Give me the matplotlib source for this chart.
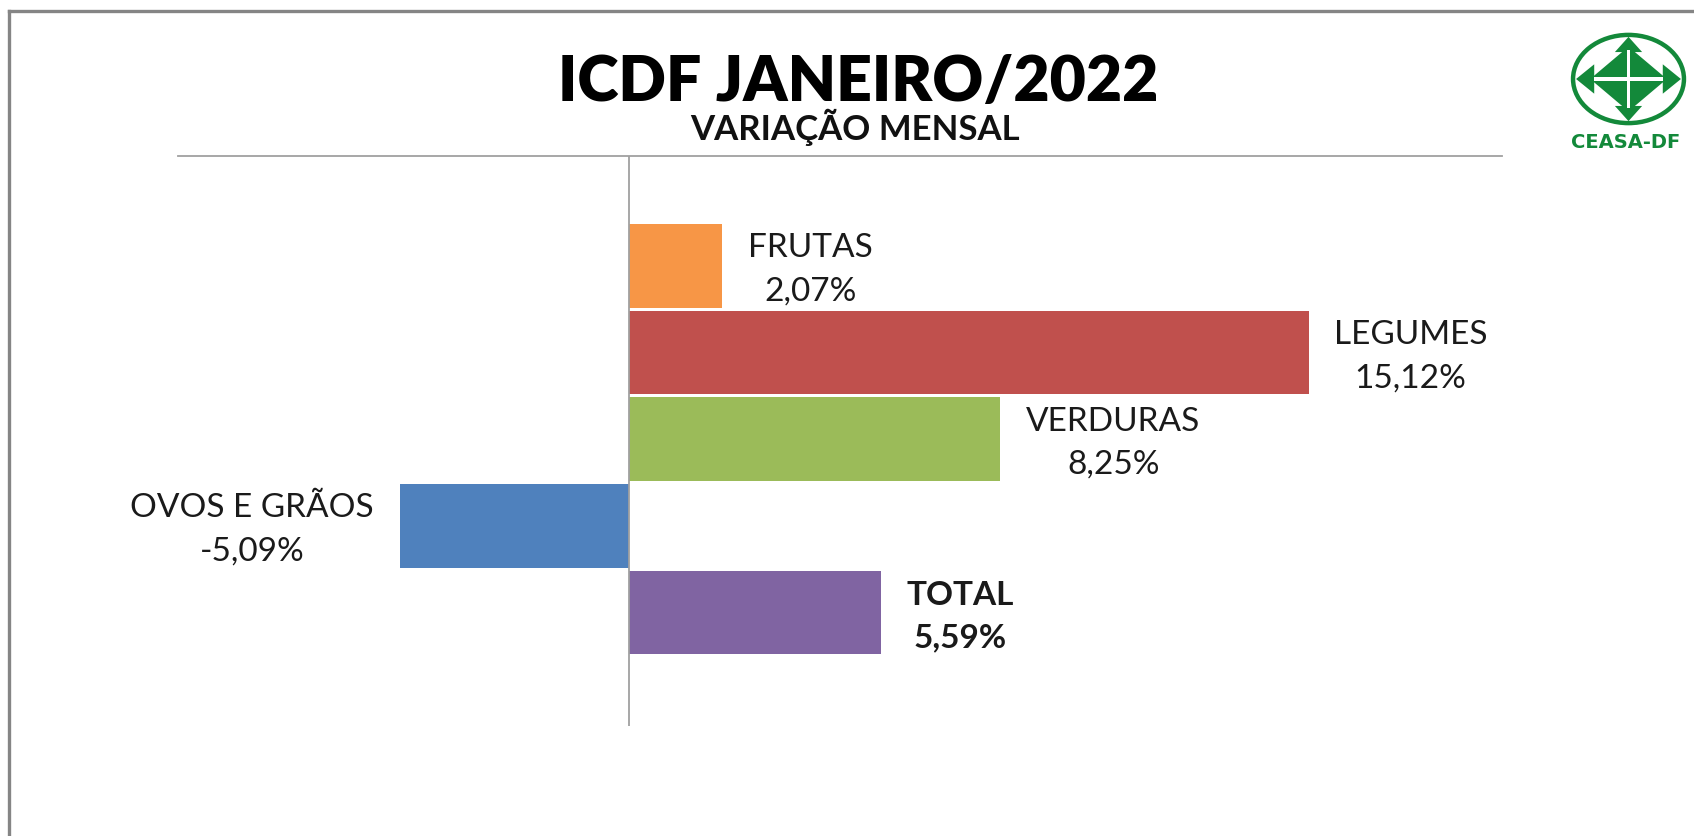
import matplotlib
matplotlib.use("Agg")
import matplotlib.pyplot as plt
from matplotlib.patches import Ellipse, Polygon, Rectangle
from matplotlib.lines import Line2D

# ---- data ----
categories = ["FRUTAS", "LEGUMES", "VERDURAS", "OVOS E GRÃOS", "TOTAL"]
values = [2.07, 15.12, 8.25, -5.09, 5.59]
colors = ["#F79646", "#C0504D", "#9BBB59", "#4F81BD", "#8064A2"]
title = "ICDF JANEIRO/2022"
subtitle = "VARIAÇÃO MENSAL"
logo_text = "CEASA-DF"

W, H = 1694, 836
fig = plt.figure(figsize=(W / 100, H / 100), dpi=100)
fig.patch.set_facecolor("white")

def fx(px):
    return px / W

def fy(py):
    return 1 - py / H

# outer frame (left and top edges visible)
fig.add_artist(Line2D([fx(9), fx(9)], [fy(11), 0], color="#858585", lw=2.4))
fig.add_artist(Line2D([fx(9), 1], [fy(11), fy(11)], color="#858585", lw=2.4))

# main axes
left, right, top, bottom = 178, 1502, 156, 726
ax = fig.add_axes([fx(left), fy(bottom), fx(right - left), (bottom - top) / H])
ypos = list(range(len(categories)))
ax.barh(ypos, values, height=0.965, color=colors, edgecolor="none", zorder=2)
ax.set_xlim(-10.02, 19.40)
ax.set_ylim(5.31, -1.27)
ax.axvline(0, color="#A0A0A0", lw=1.3, zorder=3)
for s in ["left", "right", "bottom"]:
    ax.spines[s].set_visible(False)
ax.spines["top"].set_color("#A0A0A0")
ax.spines["top"].set_linewidth(1.3)
ax.set_xticks([])
ax.set_yticks([])

label_font = "Lato"
offsets = [88, 101, 113, -148, 80]
for i, (cat, v) in enumerate(zip(categories, values)):
    txt = f"{cat}\n{v:.2f}".replace(".", ",") + "%"
    bold = cat == "TOTAL"
    ax.annotate(txt, xy=(v, i), xytext=(offsets[i], -4), textcoords="offset pixels",
                ha="center", va="center", fontsize=24, family=label_font,
                fontweight="bold" if bold else "normal", color="#1a1a1a",
                linespacing=1.56)

# titles
fig.text(fx(858), fy(83), title, ha="center", va="center", fontsize=45,
         family="Lato", fontweight="heavy", color="black")
fig.text(fx(855), fy(127), subtitle, ha="center", va="center", fontsize=25,
         family="Lato", fontweight="bold", color="#111111")

# logo
green = "#13893A"
lax = fig.add_axes([fx(1568), fy(128), fx(121), 98 / H])
lax.set_xlim(-1.2, 1.2)
lax.set_ylim(-1.0, 1.0)
lax.axis("off")
lax.add_patch(Ellipse((0, 0), 2.2, 1.8, fill=False, ec=green, lw=3.2))
# diamond body
lax.add_patch(Polygon([(0, 0.66), (0.76, 0), (0, -0.66), (-0.76, 0)], closed=True, fc=green, ec="none"))
# arrow heads
lax.add_patch(Polygon([(-0.27, 0.55), (0, 0.86), (0.27, 0.55)], closed=True, fc=green, ec="none"))
lax.add_patch(Polygon([(-0.27, -0.55), (0, -0.86), (0.27, -0.55)], closed=True, fc=green, ec="none"))
lax.add_patch(Polygon([(-0.68, 0.3), (-1.04, 0), (-0.68, -0.3)], closed=True, fc=green, ec="none"))
lax.add_patch(Polygon([(0.68, 0.3), (1.04, 0), (0.68, -0.3)], closed=True, fc=green, ec="none"))
# white cross
lax.add_patch(Rectangle((-0.035, -0.6), 0.07, 1.2, fc="white", ec="none"))
lax.add_patch(Rectangle((-0.68, -0.04), 1.36, 0.08, fc="white", ec="none"))
fig.text(fx(1626), fy(143), logo_text, ha="center", va="center", fontsize=14,
         family="DejaVu Sans", fontweight="bold", color=green)

fig.savefig("out.png", dpi=100, facecolor="white")
